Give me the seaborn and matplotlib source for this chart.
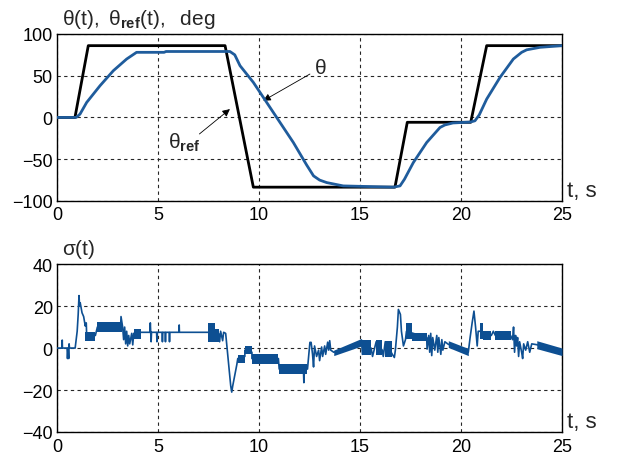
import numpy as np
import pandas as pd
import matplotlib
matplotlib.use("Agg")
import matplotlib.pyplot as plt
import seaborn as sns

# ---------------- data ----------------
# theta(t), deg
theta_t = [0, 0.95, 1.14, 1.47, 2.13, 2.79, 3.45, 3.94, 5.3, 5.4, 8.56, 8.8, 9.06, 9.72,
           10.38, 11.04, 11.7, 12.36, 12.7, 13.0, 13.35, 14.17, 16.65, 16.98, 17.2,
           17.64, 18.3, 18.96, 19.2, 19.6, 20.46, 20.69, 20.9, 21.27, 21.93, 22.59,
           23.0, 23.25, 23.91, 25]
theta_v = [0, 0, 4, 18, 38, 56, 70, 78, 78, 79, 79, 75, 62, 42,
           18, -6, -30, -57, -70, -75, -78, -82, -83.5, -82, -74,
           -54, -30, -12, -9, -6.6, -5.5, -4, 3, 22, 48, 70,
           78, 81, 84, 86]

# theta_ref(t), deg
ref_t = [0, 0.89, 1.55, 8.32, 9.72, 16.73, 17.34, 20.48, 21.27, 25]
ref_v = [0, 0, 86, 86, -83.5, -83.5, -5.8, -5.8, 86, 86]

# sigma(t): main trace
sig_t = [0, 0.25, 0.26, 0.27, 0.5, 0.52, 0.55, 0.58, 0.6, 0.62, 0.9, 1.0, 1.05, 1.09,
         1.12, 1.15, 1.24, 1.32, 1.4, 1.45, 1.47, 1.9, 2.0, 3.15, 3.17, 3.25, 3.3,
         3.35, 3.4, 3.45, 3.5, 3.55, 3.6, 3.7, 3.75, 3.8, 4.15, 4.6, 4.62, 4.64, 4.66,
         4.68, 4.93, 4.95, 4.97, 5.2, 5.22, 5.24, 5.35, 5.37, 5.39, 5.55, 5.57, 5.59,
         6.04, 6.05, 6.06, 7.5, 7.8, 8.0, 8.05, 8.1, 8.2, 8.25, 8.35, 8.5, 8.6, 8.65,
         8.7, 8.8, 8.9, 8.95, 9.3, 9.3, 9.65, 9.65, 10.96, 11.0, 12.2, 12.22, 12.25,
         12.4, 12.52, 12.58, 12.65, 12.7, 12.75, 12.85, 12.95, 13.0, 13.1, 13.15, 13.25,
         13.3, 13.4, 13.45, 13.5, 13.55, 13.7, 15.08, 15.12, 15.55, 15.62, 15.8, 16.1,
         16.15, 16.25, 16.6, 16.7, 16.75, 16.85, 16.9, 17.0, 17.05, 17.15, 17.25, 17.3,
         18.3, 18.32, 18.4, 18.45, 18.5, 18.55, 18.6, 18.7, 18.8, 18.85, 18.9, 19.0,
         19.05, 19.1, 19.2, 19.37, 20.36, 20.45, 20.55, 20.64, 20.72, 20.8, 20.85,
         20.95, 21.1, 21.5, 21.6, 21.7, 22.45, 22.55, 22.6, 22.65, 22.7, 22.75, 22.8,
         22.85, 22.9, 23.0, 23.05, 23.1, 23.2, 23.3, 23.4, 23.5, 23.75, 25]
sig_v = [0, 0, 3.8, 0, 0, -5, 0, -5, 2, 0, 0, 8, 16, 25,
         20, 21.6, 16.8, 15, 10.5, 12, 6, 6, 10, 10, 15, 10, 4,
         10, 2, 8, 1, 6, 2, 7, 1.5, 7, 7.5, 7.5, 12, 7.5, 3,
         7.5, 7.5, 3, 7.5, 7.5, 3, 7.5, 7.5, 3, 7.5, 7.5, 3, 7.5,
         7.5, 11, 7.5, 7.5, 8, 7, 3, 8, 3.5, 7.5, 7, -8, -18, -21,
         -18, -13, -8, -5, -4, -1, -2, -5, -5, -10, -10, -16.5, -10,
         -10, 2.7, 2.7, -3, -9, 1, -4, -1, -6, 0.5, -4, 1,
         -3, 2.8, -1, 3.5, -1, -2, 2.8, -3, 0, -4, 3, -1,
         -4, 3, -3, -4.5, -1, 10, 18.4, 16, 8, 1, 4, 8,
         5, -0.5, 6, -2, 7, -3.6, 5, -1, 6, -2, 5, -3,
         4, -1, 3, 1.8, -2, 5, 12, 17.6, 10, 1, 8,
         8, 6, 6, 8, 6, 6, 4, 10, -2, 6, 1, 5,
         -4, 3, -2, -5, 2, -1, 3, -2, 2, 1.6, -1.8]

# sigma(t): chattering bands (start, end, low/high at start, low/high at end)
band_t0 = [1.4, 2.0, 3.8, 7.5, 7.8, 8.95, 9.3, 9.65, 11.0, 13.7, 15.1, 15.8, 16.25,
           17.3, 17.56, 19.37, 20.95, 21.1, 21.7, 23.75]
band_t1 = [1.9, 3.2, 4.15, 7.8, 8.0, 9.3, 9.65, 10.96, 12.4, 15.08, 15.55, 16.1, 16.6,
           17.56, 18.3, 20.36, 21.1, 21.5, 22.45, 25.0]
band_lo0 = [3.5, 7.7, 4.5, 2.7, 3, -7, -3, -7.6, -12.3, -3.6, -3.5, -3.5, -4.5,
            4.3, 3.3, 0.3, 4.3, 4, 4, -0.3]
band_hi0 = [7.5, 12.2, 9, 12, 9, -3.5, 1, -3, -7.6, -1, 4, 4, 3.5,
            11.7, 7.4, 3.5, 11.7, 8, 8, 3.5]
band_lo1 = [3.5, 7.7, 4.5, 2.7, 3, -7, -3, -7.6, -12.3, 1, -3.5, -3.5, -4.5,
            4.3, 3.3, -3.6, 4.3, 4, 4, -3.6]
band_hi1 = [7.5, 12.2, 9, 12, 9, -3.5, 1, -3, -7.6, 4.6, 4, 4, 3.5,
            11.7, 7.4, -0.2, 11.7, 8, 8, 0]

x_ticks = [0, 5, 10, 15, 20, 25]
theta_ticks = [-100, -50, 0, 50, 100]
sig_ticks = [-40, -20, 0, 20, 40]

# ---------------- style ----------------
sns.set_theme(style="white")
plt.rcParams["font.family"] = ["Liberation Sans", "DejaVu Sans"]
plt.rcParams["mathtext.fontset"] = "custom"
plt.rcParams["mathtext.rm"] = "Liberation Sans"
plt.rcParams["mathtext.it"] = "Liberation Sans:italic"
plt.rcParams["mathtext.bf"] = "Liberation Sans:bold"

BLUE = "#1f5c9c"
SBLUE = "#0d4f92"

fig = plt.figure(figsize=(6.22, 4.60), dpi=100)
ax1 = fig.add_axes([0.0916, 0.561, 0.812, 0.363])
ax2 = fig.add_axes([0.0916, 0.0587, 0.812, 0.365])

df_theta = pd.DataFrame({"t": theta_t, "v": theta_v})
df_ref = pd.DataFrame({"t": ref_t, "v": ref_v})
df_sig = pd.DataFrame({"t": sig_t, "v": sig_v})

sns.lineplot(data=df_ref, x="t", y="v", ax=ax1, color="black", lw=2.0,
             sort=False, estimator=None, zorder=3)
sns.lineplot(data=df_theta, x="t", y="v", ax=ax1, color=BLUE, lw=2.0,
             sort=False, estimator=None, zorder=4)

for t0, t1, l0, h0, l1, h1 in zip(band_t0, band_t1, band_lo0, band_hi0, band_lo1, band_hi1):
    ax2.fill_between([t0, t1], [l0, l1], [h0, h1], color=SBLUE, lw=0, zorder=3)
sns.lineplot(data=df_sig, x="t", y="v", ax=ax2, color=SBLUE, lw=1.2,
             sort=False, estimator=None, zorder=4)

for ax, yl, yt in [(ax1, (-100, 100), theta_ticks), (ax2, (-40, 40), sig_ticks)]:
    ax.set_xlim(0, 25)
    ax.set_ylim(*yl)
    ax.set_xticks(x_ticks)
    ax.set_yticks(yt)
    ax.set_xlabel("")
    ax.set_ylabel("")
    ax.grid(True, color="0.15", ls=(0, (3, 3)), lw=0.8)
    ax.set_axisbelow(True)
    for s in ax.spines.values():
        s.set_color("black")
        s.set_linewidth(1.0)
        s.set_visible(True)
    ax.tick_params(axis="both", length=0, labelsize=13, colors="black", pad=3)
    ax.tick_params(axis="x", pad=4)
    ax.text(1.01, 0.06, "t, s", transform=ax.transAxes, fontsize=16,
            ha="left", va="center")

fig.text(62 / 622, 1 - 25 / 460,
         r"$\mathrm{\theta(t),\ \theta_{\mathbf{ref}}(t),\ \ deg}$",
         fontsize=15, ha="left", va="baseline")
fig.text(62 / 622, 1 - 255 / 460, r"$\mathrm{\sigma(t)}$", fontsize=15,
         ha="left", va="baseline")

arrow = dict(arrowstyle="-|>", color="black", lw=0.6, mutation_scale=11,
             shrinkA=0, shrinkB=0)
ax1.annotate("", xy=(10.21, 20), xytext=(12.52, 52), arrowprops=arrow)
ax1.text(13.02, 60, r"$\mathrm{\theta}$", fontsize=15, ha="center", va="center")
ax1.annotate("", xy=(8.56, 10), xytext=(7.05, -19.8), arrowprops=arrow)
ax1.text(6.3, -29, r"$\mathrm{\theta_{\mathbf{ref}}}$", fontsize=15,
         ha="center", va="center")

fig.savefig("out.png", dpi=100, facecolor="white")
